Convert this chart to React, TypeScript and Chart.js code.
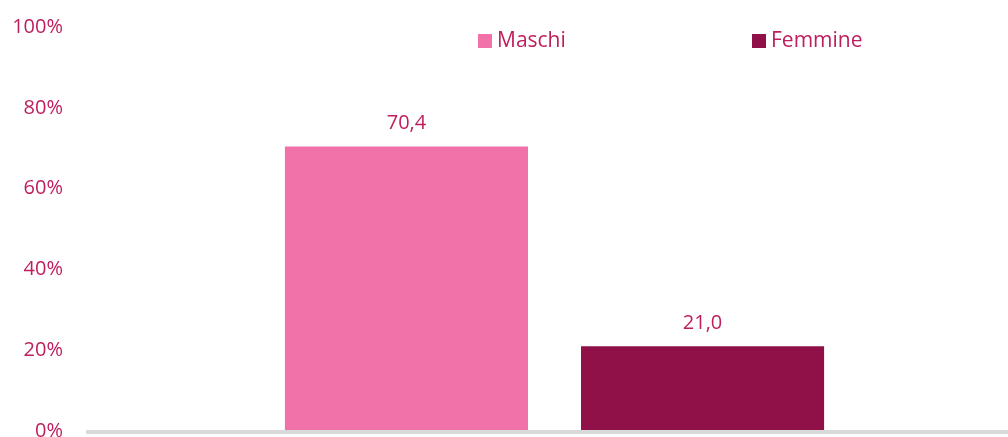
import React, { useEffect, useRef } from "react";
import { Chart, registerables } from "chart.js";

Chart.register(...registerables);

const categories: string[] = [""];
const seriesNames: string[] = ["Maschi", "Femmine"];
const maschiValues: number[] = [70.4];
const femmineValues: number[] = [21.0];
const yTicks: number[] = [0, 20, 40, 60, 80, 100];

const PINK = "#F072A8";
const DARK = "#901148";
const TEXT = "#BE1E5E";
const FONT = "'Open Sans', 'Noto Sans', sans-serif";

const baselinePlugin = {
  id: "baseline",
  afterDatasetsDraw(chart: any) {
    const { ctx, chartArea, scales } = chart;
    const y = scales.y.getPixelForValue(0);
    ctx.save();
    ctx.fillStyle = "#D9D9D9";
    ctx.fillRect(chartArea.left, Math.round(y) - 1, chart.width - chartArea.left, 4);
    ctx.restore();
  },
};

const valueLabelPlugin = {
  id: "valueLabels",
  afterDatasetsDraw(chart: any) {
    const { ctx } = chart;
    ctx.save();
    ctx.font = `20px ${FONT}`;
    ctx.fillStyle = TEXT;
    ctx.textAlign = "center";
    ctx.textBaseline = "middle";
    chart.data.datasets.forEach((ds: any, i: number) => {
      const meta = chart.getDatasetMeta(i);
      meta.data.forEach((bar: any, j: number) => {
        const v = ds.data[j] as number;
        ctx.fillText(v.toFixed(1).replace(".", ","), bar.x, bar.y - 23);
      });
    });
    ctx.restore();
  },
};

const legendPlugin = {
  id: "customLegend",
  afterDraw(chart: any) {
    const { ctx } = chart;
    const boxX = [478, 752];
    ctx.save();
    ctx.font = `21px ${FONT}`;
    ctx.textBaseline = "middle";
    ctx.textAlign = "left";
    chart.data.datasets.forEach((ds: any, i: number) => {
      ctx.fillStyle = ds.backgroundColor;
      ctx.fillRect(boxX[i], 34, 14, 14);
      ctx.fillStyle = TEXT;
      ctx.fillText(ds.label, boxX[i] + 19, 41);
    });
    ctx.restore();
  },
};

export default function App() {
  const ref = useRef<HTMLCanvasElement | null>(null);

  useEffect(() => {
    if (!ref.current) return;
    const chart = new Chart(ref.current, {
      type: "bar",
      data: {
        labels: categories,
        datasets: [
          { label: seriesNames[0], data: maschiValues, backgroundColor: PINK },
          { label: seriesNames[1], data: femmineValues, backgroundColor: DARK },
        ],
      },
      options: {
        animation: false,
        responsive: false,
        maintainAspectRatio: false,
        layout: { padding: { top: 27, bottom: 6, left: 0, right: 17 } },
        datasets: {
          bar: { categoryPercentage: 0.632, barPercentage: 0.821 },
        },
        plugins: {
          legend: { display: false },
          tooltip: { enabled: false },
        },
        scales: {
          x: { display: false },
          y: {
            min: 0,
            max: 100,
            afterFit(scale: any) {
              scale.width = 86;
              scale.paddingTop = 0;
              scale.paddingBottom = 0;
            },
            afterBuildTicks(scale: any) {
              scale.ticks = yTicks.map((v) => ({ value: v }));
            },
            grid: { display: false },
            border: { display: false },
            ticks: {
              padding: 15,
              color: TEXT,
              font: { family: FONT, size: 20 },
              callback: (v: any) => `${v}%`,
            },
          },
        },
      },
      plugins: [baselinePlugin, valueLabelPlugin, legendPlugin],
    });
    return () => chart.destroy();
  }, []);

  return (
    <div
      style={{
        position: "absolute",
        left: 0,
        top: 0,
        width: 1008,
        height: 437,
        overflow: "hidden",
        background: "#fff",
      }}
    >
      <canvas ref={ref} width={1040} height={437} style={{ display: "block" }} />
    </div>
  );
}
